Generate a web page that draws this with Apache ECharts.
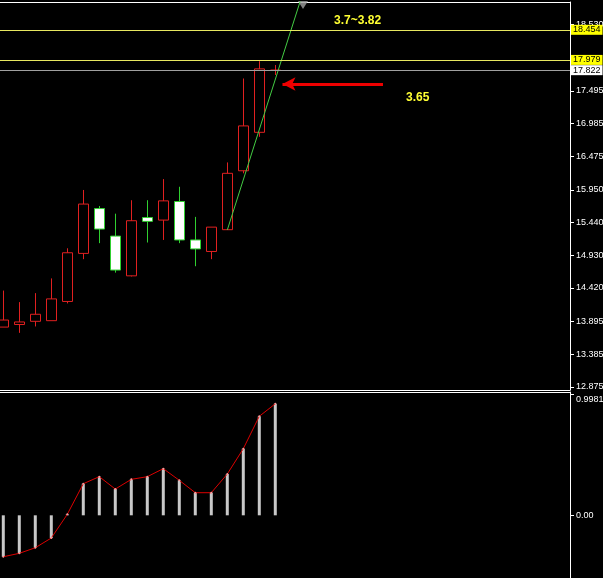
<!DOCTYPE html>
<html><head><meta charset="utf-8">
<script src="https://cdn.jsdelivr.net/npm/echarts@6/dist/echarts.min.js"></script>
<style>html,body{margin:0;padding:0;background:#000}#c{width:603px;height:578px}</style>
</head><body><div id="c"></div>
<script>
// ---- data ----
const candleIndex = [0,1,2,3,4,5,6,7,8,9,10,11,12,13,14,15,16,17];
const opens  = [13.81,13.85,13.90,13.91,14.21,14.96,15.66,15.23,14.61,15.52,15.48,15.77,15.17,14.99,15.33,16.25,16.85,17.815];
const closes = [13.92,13.89,14.01,14.25,14.97,15.73,15.34,14.70,15.47,15.46,15.78,15.17,15.03,15.37,16.21,16.95,17.84,17.822];
const lows   = [13.81,13.72,13.82,13.91,14.18,14.87,15.12,14.66,14.60,15.13,15.17,15.12,14.76,14.87,15.33,16.21,16.78,17.745];
const highs  = [14.38,14.20,14.34,14.57,15.04,15.95,15.70,15.58,15.79,15.79,16.12,16.00,15.53,15.37,16.38,17.69,17.96,17.90];
const oscValues = [-0.341,-0.313,-0.267,-0.187,0.008,0.260,0.318,0.216,0.296,0.318,0.384,0.288,0.186,0.186,0.340,0.548,0.815,0.918];
const priceTicks = [12.875,13.385,13.895,14.420,14.930,15.440,15.950,16.475,16.985,17.495,18.530];
const oscTicks = [0, 0.9981];
const levelLines = [18.454, 17.979];
const bidLine = 17.822;
const trendPoints = [[14, 15.325], [18.69, 19.0]];
const trendMarker = [18.73, 18.837];
const arrowFrom = [23.73, 17.604];
const arrowTo = [17.45, 17.604];
const noteA = {text: '3.7~3.82', at: [22.14, 18.592]};
const noteB = {text: '3.65', at: [25.9, 17.397]};

// ---- chart ----
const chart = echarts.init(document.getElementById('c'), null, {renderer: 'canvas'});
const xMin = -0.206, xMax = -0.206 + 570 / 16;
const candleData = candleIndex.map((x, i) => [x, opens[i], closes[i], lows[i], highs[i]]);
const oscData = candleIndex.map((x, i) => [x, oscValues[i]]);
const white = '#ffffff';
const plainX = (gridIndex, position, show) => ({
  type: 'value', gridIndex, position, min: xMin, max: xMax,
  axisLine: {show, onZero: false, lineStyle: {color: white, width: 1}},
  axisTick: {show: false}, axisLabel: {show: false}, splitLine: {show: false}
});
const levelLabel = (txt, bg) => ({
  show: true, position: 'end', formatter: txt, color: '#000', backgroundColor: bg,
  padding: [1, 2, 0, 2], fontSize: 9, distance: 1, fontFamily: 'Liberation Sans'
});

chart.setOption({
  animation: false,
  backgroundColor: '#000',
  textStyle: {fontFamily: 'Liberation Sans'},
  grid: [
    {left: 0, right: 33, top: 2, height: 388, containLabel: false, outerBoundsMode: 'none'},
    {left: 0, right: 33, top: 392, bottom: 0, containLabel: false, outerBoundsMode: 'none'}
  ],
  xAxis: [plainX(0, 'bottom', true), plainX(0, 'top', true), plainX(1, 'top', true)],
  yAxis: [
    {
      type: 'value', gridIndex: 0, position: 'right', min: 12.828, max: 18.884,
      axisLine: {show: true, onZero: false, lineStyle: {color: white}},
      axisTick: {show: true, customValues: priceTicks, length: 4, lineStyle: {color: white}},
      axisLabel: {show: true, customValues: priceTicks, color: white, fontSize: 9, margin: 6,
        formatter: v => v.toFixed(3)},
      splitLine: {show: false}
    },
    {
      type: 'value', gridIndex: 1, position: 'right', min: -0.516, max: 1.015,
      axisLine: {show: true, onZero: false, lineStyle: {color: white}},
      axisTick: {show: true, customValues: oscTicks, length: 4, lineStyle: {color: white}},
      axisLabel: {show: true, customValues: oscTicks, color: white, fontSize: 9, margin: 6,
        formatter: v => v === 0 ? '0.00' : '{t|' + v.toFixed(4) + '}',
        rich: {t: {color: white, fontSize: 9, padding: [10, 0, 0, 0]}}},
      splitLine: {show: false}
    }
  ],
  series: [
    {
      type: 'candlestick', xAxisIndex: 0, yAxisIndex: 0, data: candleData, barWidth: 10,
      itemStyle: {color: '#000', color0: '#ffffff', borderColor: '#e02020', borderColor0: '#30d030', borderWidth: 1}
    },
    {
      type: 'line', xAxisIndex: 0, yAxisIndex: 0, data: trendPoints, symbol: 'none', clip: true,
      lineStyle: {color: '#44cc44', width: 1},
      markLine: {
        silent: true, symbol: 'none', animation: false,
        data: [
          {yAxis: levelLines[0], lineStyle: {color: '#e8e860', width: 1, type: 'solid'}, label: levelLabel(levelLines[0].toFixed(3), '#ffff00')},
          {yAxis: levelLines[1], lineStyle: {color: '#e8e860', width: 1, type: 'solid'}, label: levelLabel(levelLines[1].toFixed(3), '#ffff00')},
          {yAxis: bidLine, lineStyle: {color: '#a0a0a0', width: 1, type: 'solid'}, label: levelLabel(bidLine.toFixed(3), '#ffffff')},
          [
            {coord: arrowFrom, symbol: 'none', lineStyle: {color: '#ee0000', width: 3, type: 'solid'}, label: {show: false}},
            {coord: arrowTo, symbol: 'arrow', symbolSize: [10, 13]}
          ]
        ]
      },
      markPoint: {
        silent: true, symbol: 'circle', symbolSize: 0, animation: false,
        data: [noteA, noteB].map(n => ({
          coord: n.at, itemStyle: {color: 'transparent'},
          label: {show: true, position: 'inside', formatter: n.text, color: '#ffff33', fontWeight: 'bold', fontSize: 12}
        }))
      }
    },
    {
      type: 'scatter', xAxisIndex: 0, yAxisIndex: 0, data: [trendMarker], symbol: 'triangle',
      symbolRotate: 180, symbolSize: [10, 8], itemStyle: {color: '#a0a0a0'}, silent: true
    },
    {
      type: 'bar', xAxisIndex: 2, yAxisIndex: 1, data: oscData, barWidth: 3,
      itemStyle: {color: '#c8c8c8'}
    },
    {
      type: 'line', xAxisIndex: 2, yAxisIndex: 1, data: oscData, symbol: 'circle', symbolSize: 2,
      showSymbol: true, lineStyle: {color: '#dd0000', width: 1}, itemStyle: {color: '#ff9a9a'}
    }
  ]
});
</script></body></html>
